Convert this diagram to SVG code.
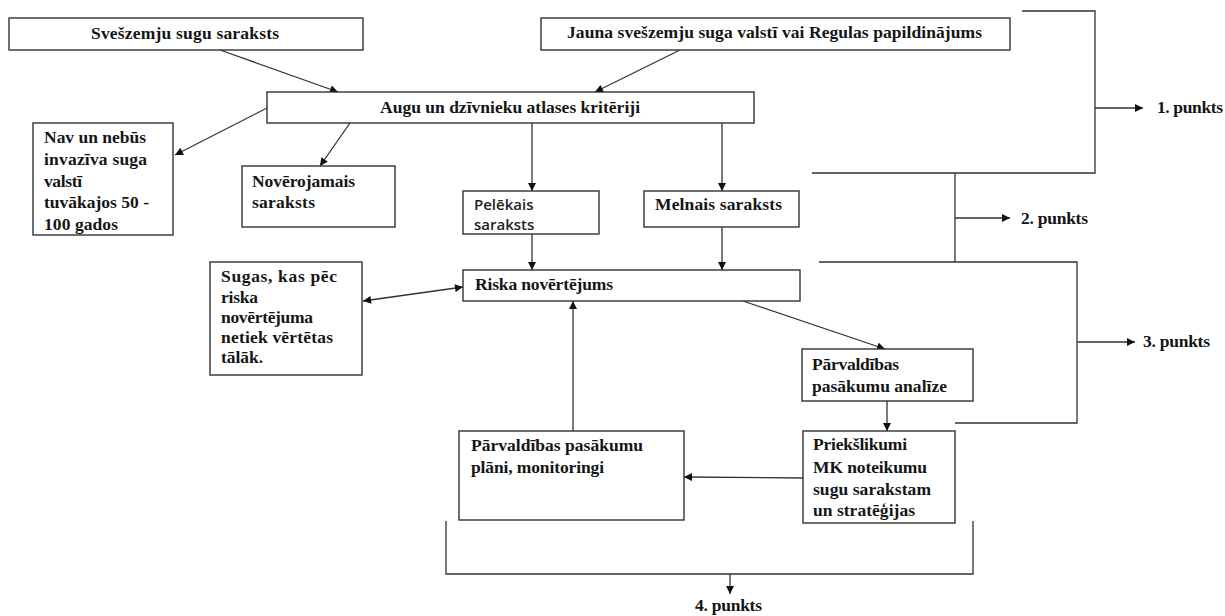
<svg xmlns="http://www.w3.org/2000/svg" width="1225" height="616" viewBox="0 0 1225 616">
<defs>
<marker id="ah" viewBox="0 0 10 10" refX="10" refY="5" markerWidth="10" markerHeight="8" markerUnits="userSpaceOnUse" orient="auto-start-reverse">
<path d="M0,0 L10,5 L0,10 z" fill="#111"/>
</marker>
<style>
.box{fill:#fff;stroke:#333;stroke-width:1.4}
.t{font-family:'Liberation Serif','Times New Roman',Times,serif;font-weight:bold;font-size:17.5px;fill:#151515}
.s{font-family:'Open Sans','Liberation Sans',sans-serif;font-weight:600;font-size:15px;fill:#222}
.c{stroke:#333;stroke-width:1.3;fill:none}
.a{stroke:#333;stroke-width:1.3;fill:none;marker-end:url(#ah)}
.ab{stroke:#333;stroke-width:1.3;fill:none;marker-end:url(#ah);marker-start:url(#ah)}
</style>
</defs>
<rect width="1225" height="616" fill="#fff"/>
<g id="connectors">
<line class="a" x1="220" y1="50" x2="338" y2="92"/>
<line class="a" x1="680" y1="50" x2="595" y2="92"/>
<line class="a" x1="267" y1="108" x2="175" y2="155"/>
<line class="a" x1="350" y1="123" x2="320" y2="166"/>
<line class="a" x1="532" y1="123" x2="532" y2="191"/>
<line class="a" x1="722" y1="123" x2="722" y2="191"/>
<line class="a" x1="532" y1="234" x2="532" y2="270"/>
<line class="a" x1="722" y1="227" x2="722" y2="270"/>
<line class="ab" x1="363" y1="301" x2="463" y2="287"/>
<line class="a" x1="743" y1="301" x2="885" y2="349"/>
<line class="a" x1="887" y1="401" x2="887" y2="431"/>
<line class="a" x1="803" y1="478" x2="684" y2="477"/>
<line class="a" x1="573" y1="431" x2="573" y2="301"/>
<polyline class="c" points="1022,11 1095,11 1095,173 812,173"/>
<line class="a" x1="1095" y1="108" x2="1143" y2="108"/>
<line class="c" x1="955" y1="173" x2="955" y2="262"/>
<line class="a" x1="955" y1="218" x2="1010" y2="218"/>
<polyline class="c" points="819,262 1077,262 1077,423 955,423"/>
<line class="a" x1="1077" y1="342" x2="1135" y2="342"/>
<polyline class="c" points="446,521 446,574 973,574 973,521"/>
<line class="a" x1="730" y1="574" x2="730" y2="594"/>
</g>
<g id="labels">
<text class="t" x="1157" y="113" textLength="66">1. punkts</text>
<text class="t" x="1021" y="224" textLength="67">2. punkts</text>
<text class="t" x="1143" y="347" textLength="67">3. punkts</text>
<text class="t" x="695" y="611" textLength="67">4. punkts</text>
</g>
<g id="n-svesz">
<rect class="box" x="9" y="18" width="354" height="32"/>
<text class="t" x="91" y="39" textLength="188">Svešzemju sugu saraksts</text>
</g>
<g id="n-jauna">
<rect class="box" x="541" y="18" width="469" height="32"/>
<text class="t" x="567" y="38" textLength="415">Jauna svešzemju suga valstī vai Regulas papildinājums</text>
</g>
<g id="n-augu">
<rect class="box" x="267" y="92" width="487" height="31"/>
<text class="t" x="380" y="113" textLength="260">Augu un dzīvnieku atlases kritēriji</text>
</g>
<g id="n-nav">
<rect class="box" x="33" y="123" width="140" height="112"/>
<text class="t" x="44" y="143" textLength="102">Nav un nebūs</text>
<text class="t" x="44" y="165" textLength="103">invazīva suga</text>
<text class="t" x="44" y="187" textLength="38">valstī</text>
<text class="t" x="44" y="208" textLength="105">tuvākajos 50 -</text>
<text class="t" x="44" y="230" textLength="74">100 gados</text>
</g>
<g id="n-noverojamais">
<rect class="box" x="242" y="166" width="153" height="61"/>
<text class="t" x="252" y="187" textLength="103">Novērojamais</text>
<text class="t" x="252" y="208" textLength="63">saraksts</text>
</g>
<g id="n-pelekais">
<rect class="box" x="463" y="191" width="136" height="43"/>
<text class="s" x="474" y="210">Pelēkais</text>
<text class="s" x="474" y="230">saraksts</text>
</g>
<g id="n-melnais">
<rect class="box" x="644" y="191" width="155" height="36"/>
<text class="t" x="655" y="210" textLength="127">Melnais saraksts</text>
</g>
<g id="n-sugas">
<rect class="box" x="210" y="262" width="152" height="113"/>
<text class="t" x="221" y="282" textLength="116">Sugas, kas pēc</text>
<text class="t" x="221" y="303" textLength="37">riska</text>
<text class="t" x="221" y="323" textLength="92">novērtējuma</text>
<text class="t" x="221" y="343" textLength="112">netiek vērtētas</text>
<text class="t" x="221" y="363" textLength="42">tālāk.</text>
</g>
<g id="n-riska">
<rect class="box" x="463" y="270" width="337" height="31"/>
<text class="t" x="475" y="290" textLength="138">Riska novērtējums</text>
</g>
<g id="n-analize">
<rect class="box" x="802" y="349" width="171" height="52"/>
<text class="t" x="812" y="370" textLength="87">Pārvaldības</text>
<text class="t" x="812" y="392" textLength="135">pasākumu analīze</text>
</g>
<g id="n-plani">
<rect class="box" x="459" y="431" width="225" height="89"/>
<text class="t" x="471" y="451" textLength="172">Pārvaldības pasākumu</text>
<text class="t" x="471" y="473" textLength="133">plāni, monitoringi</text>
</g>
<g id="n-priekslikumi">
<rect class="box" x="803" y="431" width="152" height="92"/>
<text class="t" x="813" y="450" textLength="94">Priekšlikumi</text>
<text class="t" x="813" y="473" textLength="114">MK noteikumu</text>
<text class="t" x="813" y="495" textLength="118">sugu sarakstam</text>
<text class="t" x="813" y="516" textLength="102">un stratēģijas</text>
</g>
</svg>
